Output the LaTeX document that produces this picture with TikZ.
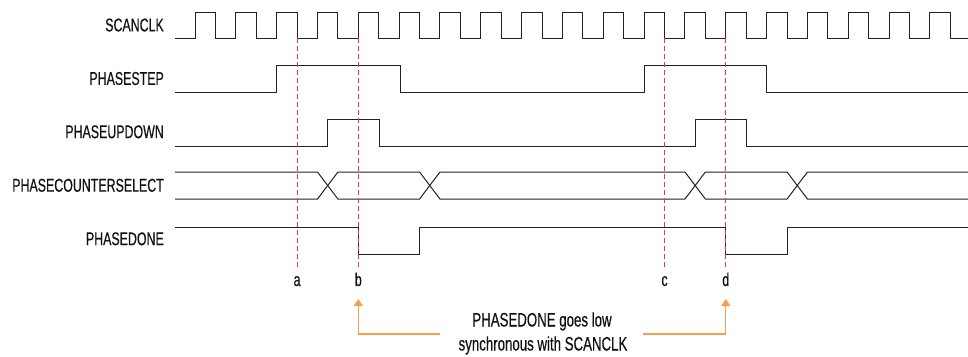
\documentclass[tikz,border=0pt]{standalone}
\usepackage{fontspec}
\setmainfont{Liberation Sans}[FakeStretch=0.67,FakeBold=0.4]
\newfontfamily\notefont{Liberation Sans}[FakeStretch=0.68,FakeBold=0.4]
\usetikzlibrary{arrows.meta}
\definecolor{sigcol}{HTML}{222222}
\definecolor{markred}{HTML}{E8383D}
\definecolor{noteor}{HTML}{F7A04A}
\definecolor{txtcol}{HTML}{111111}
\tikzset{
  wave/.style={draw=sigcol, line width=1pt, line join=miter},
  marker/.style={draw=markred, line width=1pt, dash pattern=on 5pt off 3pt},
  lbl/.style={font=\fontsize{18.5}{21}\selectfont, text=txtcol, inner sep=0pt},
  notelbl/.style={font=\notefont\fontsize{19.5}{21}\selectfont, text=txtcol, inner sep=0pt},
  siglbl/.style={lbl, anchor=east},
  notearrow/.style={draw=noteor, line width=1.1pt, -{Triangle[width=9pt,length=7pt]}}
}
\begin{document}
\begin{tikzpicture}[x=1pt,y=-1pt]
\useasboundingbox (0,0) rectangle (968,356);
% signal names
\node[siglbl] (nclk)  at (164,25)    {SCANCLK};
\node[siglbl] (nstep) at (164,78.5)  {PHASESTEP};
\node[siglbl] (nud)   at (164,131.8) {PHASEUPDOWN};
\node[siglbl] (ncs)   at (164,185.3) {PHASECOUNTERSELECT};
\node[siglbl] (ndone) at (164,238.8) {PHASEDONE};
% SCANCLK
\draw[wave] (175,38) \foreach \k in {0,...,18} {
  -- ({195+40.83*\k},38) -- ({195+40.83*\k},12)
  -- ({215.42+40.83*\k},12) -- ({215.42+40.83*\k},38) } -- (968,38);
% PHASESTEP
\draw[wave] (175,92) -- (276.66,92) -- (276.66,65) -- (400,65) -- (400,92)
  -- (644.13,92) -- (644.13,65) -- (766.62,65) -- (766.62,92) -- (968,92);
% PHASEUPDOWN
\draw[wave] (175,146) -- (327.7,146) -- (327.7,119) -- (379.5,119) -- (379.5,146)
  -- (695,146) -- (695,119) -- (746.21,119) -- (746.21,146) -- (968,146);
% PHASECOUNTERSELECT
\draw[wave] (175,172) -- (317.49,172) -- (337.91,199) -- (419.57,199) -- (439.98,172)
  -- (684.96,172) -- (705.38,199) -- (787.04,199) -- (807.45,172) -- (968,172);
\draw[wave] (175,199) -- (317.49,199) -- (337.91,172) -- (419.57,172) -- (439.98,199)
  -- (684.96,199) -- (705.38,172) -- (787.04,172) -- (807.45,199) -- (968,199);
% PHASEDONE
\draw[wave] (175,227) -- (358.32,227) -- (358.32,254) -- (419.57,254) -- (419.57,227)
  -- (725.79,227) -- (725.79,254) -- (787.04,254) -- (787.04,227) -- (968,227);
% markers
\coordinate (ta) at (297.08,38);  \coordinate (ba) at (297.08,269);
\coordinate (tb) at (358.32,38);  \coordinate (bb) at (358.32,269);
\coordinate (tc) at (664.55,38);  \coordinate (bc) at (664.55,269);
\coordinate (td) at (725.79,38);  \coordinate (bd) at (725.79,269);
\draw[marker] (ta) -- (ba);
\draw[marker] (tb) -- (bb);
\draw[marker] (tc) -- (bc);
\draw[marker] (td) -- (bd);
\node[lbl, anchor=base] (la) at (297.08,286) {a};
\node[lbl, anchor=base] (lb) at (358.32,286) {b};
\node[lbl, anchor=base] (lc) at (664.55,286) {c};
\node[lbl, anchor=base] (ld) at (725.79,286) {d};
% note
\node[notelbl, anchor=base] (note1) at (542,326.5) {PHASEDONE goes low};
\node[notelbl, anchor=base] (note2) at (543,350.5) {synchronous with SCANCLK};
\coordinate (nl) at (440,334);
\coordinate (nr) at (643,334);
\coordinate (ab) at (358.32,299);
\coordinate (ad) at (725.79,299);
\draw[notearrow] (nl) -| (ab);
\draw[notearrow] (nr) -| (ad);
\end{tikzpicture}
\end{document}
